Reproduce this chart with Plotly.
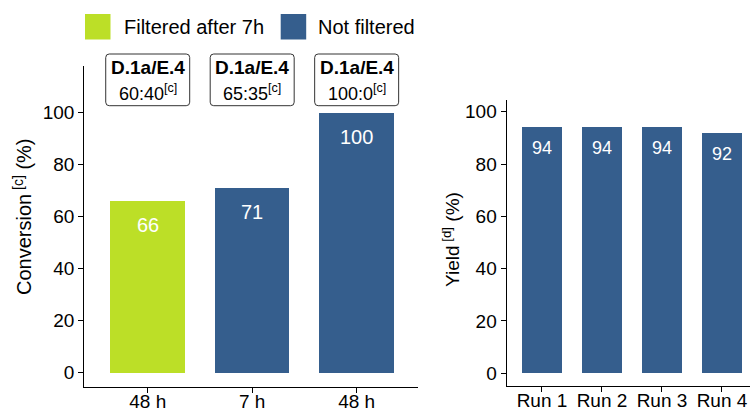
import plotly.graph_objects as go

# ---------------- data ----------------
conv_labels = ["48 h", "7 h", "48 h"]
conv_values = [66, 71, 100]
conv_groups = ["Filtered after 7h", "Not filtered", "Not filtered"]
catalyst_labels = ["D.1a/E.4", "D.1a/E.4", "D.1a/E.4"]
ratio_labels = ["60:40", "65:35", "100:0"]

run_labels = ["Run 1", "Run 2", "Run 3", "Run 4"]
yield_values = [94, 94, 94, 92]

group_names = ["Filtered after 7h", "Not filtered"]
group_colors = {"Filtered after 7h": "#BCDF27", "Not filtered": "#355E8D"}

FONT = "Liberation Sans, Arial, sans-serif"
W, H = 750, 410

def py(p):  # pixel-from-top to paper y
    return (H - p) / H

def px(p):
    return p / W

fig = go.Figure()

conv_x = list(range(1, len(conv_values) + 1))
for g in group_names:
    xs = [x for x, gg in zip(conv_x, conv_groups) if gg == g]
    ys = [v for v, gg in zip(conv_values, conv_groups) if gg == g]
    fig.add_trace(go.Bar(x=xs, y=ys, name=g, width=0.713,
                         marker=dict(color=group_colors[g], line=dict(width=0)),
                         xaxis="x", yaxis="y", showlegend=False, hoverinfo="skip"))

run_x = list(range(1, len(yield_values) + 1))
fig.add_trace(go.Bar(x=run_x, y=yield_values, width=0.667,
                     marker=dict(color=group_colors["Not filtered"], line=dict(width=0)),
                     xaxis="x2", yaxis="y2", showlegend=False, hoverinfo="skip"))

annotations = []
shapes = []

# value labels inside bars
for x, v in zip(conv_x, conv_values):
    annotations.append(dict(x=x, y=v, xref="x", yref="y", text=str(v), showarrow=False,
                            yanchor="middle", yshift=-24,
                            font=dict(family=FONT, size=20, color="white")))
for x, v in zip(run_x, yield_values):
    annotations.append(dict(x=x, y=v, xref="x2", yref="y2", text=str(v), showarrow=False,
                            yanchor="middle", yshift=-21,
                            font=dict(family=FONT, size=18, color="white")))

# label boxes above conversion bars
half_w = 42 / 104.5
rx = 3.5 / 104.5
ry = 3.5 / H
y_top, y_bot = py(54), py(105.7)
for x, cat, ratio in zip(conv_x, catalyst_labels, ratio_labels):
    x0, x1 = x - half_w, x + half_w
    path = (f"M {x0+rx},{y_top} L {x1-rx},{y_top} Q {x1},{y_top} {x1},{y_top-ry} "
            f"L {x1},{y_bot+ry} Q {x1},{y_bot} {x1-rx},{y_bot} "
            f"L {x0+rx},{y_bot} Q {x0},{y_bot} {x0},{y_bot+ry} "
            f"L {x0},{y_top-ry} Q {x0},{y_top} {x0+rx},{y_top} Z")
    shapes.append(dict(type="path", path=path, xref="x", yref="paper",
                       line=dict(color="#333333", width=1), fillcolor="white", layer="above"))
    annotations.append(dict(x=x, y=py(67.5), xref="x", yref="paper", text=f"<b>{cat}</b>",
                            showarrow=False, yanchor="middle",
                            font=dict(family=FONT, size=19, color="black")))
    annotations.append(dict(x=x, y=py(93), xref="x", yref="paper",
                            text=f"{ratio}<sup>[c]</sup>",
                            showarrow=False, yanchor="middle",
                            font=dict(family=FONT, size=18, color="black")))

# legend (manual)
leg_items = [(group_names[0], 85, 121.7), (group_names[1], 280.7, 316)]
for name, sx, tx in leg_items:
    shapes.append(dict(type="rect", xref="paper", yref="paper",
                       x0=px(sx), x1=px(sx + 25.5), y0=py(39.5), y1=py(14),
                       fillcolor=group_colors[name], line=dict(width=0)))
    annotations.append(dict(x=px(tx), y=py(27.5), xref="paper", yref="paper", text=name,
                            showarrow=False, xanchor="left", yanchor="middle",
                            font=dict(family=FONT, size=20, color="black")))

# axis titles
annotations.append(dict(x=px(22), y=py(217), xref="paper", yref="paper",
                        text="Conversion<sup> [c]</sup> (%)", textangle=-90, showarrow=False,
                        xanchor="center", yanchor="middle",
                        font=dict(family=FONT, size=20, color="black")))
annotations.append(dict(x=px(451), y=py(240), xref="paper", yref="paper",
                        text="Yield<sup> [d]</sup> (%)", textangle=-90, showarrow=False,
                        xanchor="center", yanchor="middle",
                        font=dict(family=FONT, size=19, color="black")))

axis_common = dict(showline=True, linecolor="black", linewidth=1.3, ticks="outside",
                   ticklen=5, tickwidth=1.2, tickcolor="black", showgrid=False, zeroline=False,
                   automargin=False,
                   tickfont=dict(family=FONT, size=19, color="black"), fixedrange=True)

fig.update_layout(
    width=W, height=H, margin=dict(l=0, r=0, t=0, b=0, autoexpand=False),
    paper_bgcolor="white", plot_bgcolor="white",
    bargap=0, barmode="overlay",
    xaxis=dict(domain=[px(84.3), px(418.3)], range=[0.393, 3.59], ticklabelstandoff=-8,
               tickvals=conv_x, ticktext=conv_labels, anchor="y", **axis_common),
    yaxis=dict(domain=[py(386.7), py(66)], range=[-5.4, 118],
               tickvals=[0, 20, 40, 60, 80, 100], anchor="x", **axis_common),
    xaxis2=dict(domain=[px(506.7), 1.0], range=[0.412, 4.467], ticklabelstandoff=-8,
                tickvals=run_x, ticktext=run_labels, anchor="y2", **axis_common),
    yaxis2=dict(domain=[py(386.3), py(100)], range=[-5, 104.5],
                tickvals=[0, 20, 40, 60, 80, 100], anchor="x2", **axis_common),
    annotations=annotations, shapes=shapes,
)

fig.write_html("out.html", config={"displayModeBar": False},
               post_script="document.body.style.margin='0';document.body.style.overflow='hidden';")
